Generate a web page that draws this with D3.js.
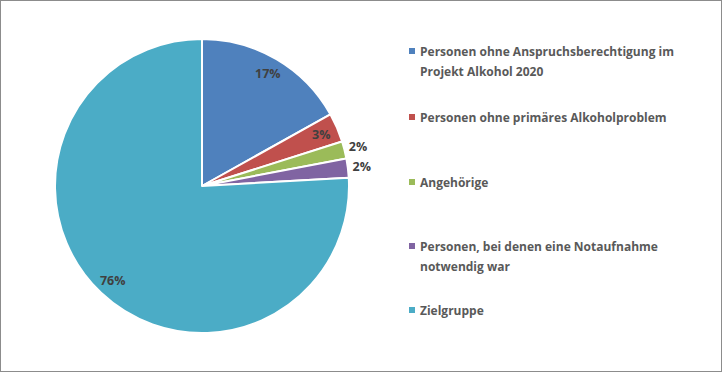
<!DOCTYPE html>
<html>
<head>
<meta charset="utf-8">
<script src="https://cdn.jsdelivr.net/npm/d3@7"></script>
<style>
  body { margin: 0; background: #fff; }
  svg { display: block; font-family: "Open Sans", "Liberation Sans", sans-serif; }
</style>
</head>
<body>
<svg id="chart"></svg>
<script>
const categories = [
    "Personen ohne Anspruchsberechtigung im Projekt Alkohol 2020",
    "Personen ohne primäres Alkoholproblem",
    "Angehörige",
    "Personen, bei denen eine Notaufnahme notwendig war",
    "Zielgruppe"
];
const legendLines = [
    ["Personen ohne Anspruchsberechtigung im", "Projekt Alkohol 2020"],
    ["Personen ohne primäres Alkoholproblem"],
    ["Angehörige"],
    ["Personen, bei denen eine Notaufnahme", "notwendig war"],
    ["Zielgruppe"]
];
const values = [16.9, 3.2, 1.9, 2.1, 75.9];
const pctLabels = ["17%", "3%", "2%", "2%", "76%"];
const colors = ["#4f81bd", "#c0504d", "#9bbb59", "#8064a2", "#4bacc6"];
// slices whose label sits outside the pie
const outside = [false, false, true, true, false];

const width = 722, height = 372;
const cx = 202, cy = 186, radius = 147;

const svg = d3.select("#chart")
    .attr("width", width)
    .attr("height", height);

svg.append("rect")
    .attr("x", 0.5).attr("y", 0.5)
    .attr("width", width - 1).attr("height", height - 1)
    .attr("fill", "#fff")
    .attr("stroke", "#8c8c8c");

const data = categories.map((c, i) => ({ name: c, value: values[i], i: i }));

const pie = d3.pie().sort(null).value(d => d.value);
const arcs = pie(data);

const arc = d3.arc().innerRadius(0).outerRadius(radius);
const labelArcIn = d3.arc().innerRadius(130).outerRadius(130);
const labelArcOut = d3.arc().innerRadius(161).outerRadius(161);

const g = svg.append("g")
    .attr("transform", `translate(${cx},${cy})`);

g.selectAll("path")
    .data(arcs)
    .enter().append("path")
    .attr("d", arc)
    .attr("fill", d => colors[d.data.i])
    .attr("stroke", "#fff")
    .attr("stroke-width", 2)
    .attr("stroke-linejoin", "round");

g.selectAll("text.pct")
    .data(arcs)
    .enter().append("text")
    .attr("class", "pct")
    .attr("transform", d => {
        const p = (outside[d.data.i] ? labelArcOut : labelArcIn).centroid(d);
        return `translate(${p[0]},${p[1]})`;
    })
    .attr("text-anchor", "middle")
    .attr("dy", "0.35em")
    .attr("font-size", 12.5)
    .attr("font-weight", "bold")
    .attr("fill", "#404040")
    .text(d => pctLabels[d.data.i]);

// legend
const legendY = [52, 118, 183, 247, 311];
const legend = svg.append("g");

legendLines.forEach((lines, i) => {
    legend.append("rect")
        .attr("x", 409)
        .attr("y", legendY[i] - 4)
        .attr("width", 6)
        .attr("height", 6)
        .attr("fill", colors[i]);
    const t = legend.append("text")
        .attr("x", 420)
        .attr("y", legendY[i])
        .attr("font-size", 12)
        .attr("font-weight", "bold")
        .attr("fill", "#595959");
    lines.forEach((l, j) => {
        t.append("tspan")
            .attr("x", 420)
            .attr("dy", j === 0 ? "0.35em" : 20)
            .text(l);
    });
});
</script>
</body>
</html>
